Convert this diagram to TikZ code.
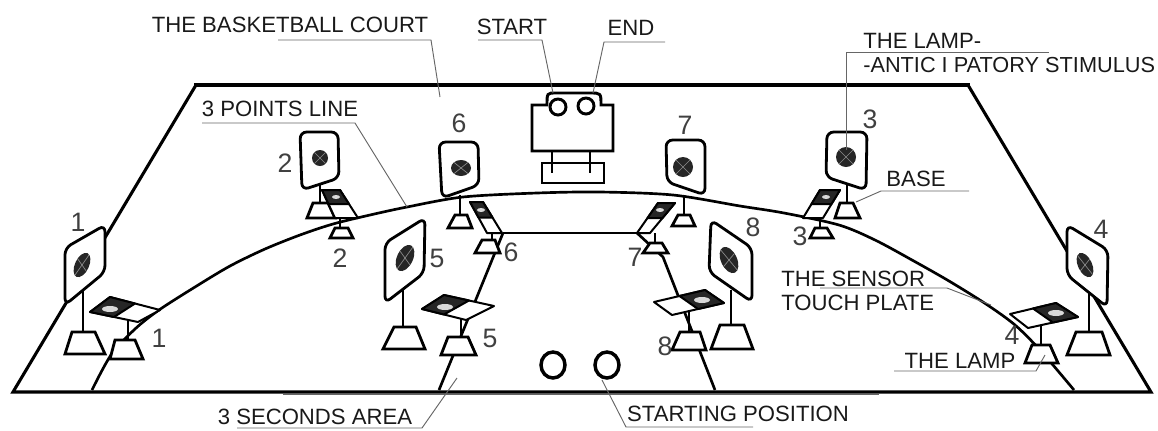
\documentclass[tikz,border=0pt]{standalone}
\usepackage{fontspec}
\setmainfont{Liberation Sans}
\tikzset{
  court/.style={line width=2.3pt, line join=miter},
  courttop/.style={line width=3.2pt},
  board/.style={draw, fill=white, line width=2.1pt, rounded corners=5pt},
  target/.style={fill=black!85, path picture={
    \draw[white!55!black, line width=.5pt] (path picture bounding box.south west) -- (path picture bounding box.north east);
    \draw[white!55!black, line width=.5pt] (path picture bounding box.north west) -- (path picture bounding box.south east);}},
  plate/.style={draw, fill=white, line width=1.5pt, line join=round},
  platedark/.style={draw, fill=black!85, line width=1.5pt, line join=round},
  spot/.style={fill=black!15},
  base/.style={draw, fill=white, line width=2.1pt, line join=miter},
  post/.style={line width=1.9pt},
  leader/.style={draw=black!60, line width=.7pt},
  lbl/.style={text=black!90, inner sep=0pt, font=\fontsize{16.6}{19}\selectfont},
  num/.style={text=black!75, inner sep=0pt, font=\fontsize{20}{22}\selectfont}
}
\begin{document}
\begin{tikzpicture}[x=0.75pt, y=-0.75pt]
  \useasboundingbox (0,0) rectangle (1158,430);
  \draw[court] (196,85) -- (13,392) -- (1151,392) -- (968,85);
  \draw[courttop] (194,85) -- (970,85);
  \draw[leader] (283,394.5) -- (879,394.5);
  \draw[line width=2pt] plot[smooth] coordinates {(92,390) (111,355) (135,329) (159,310) (195,287) (230,266) (265,249) (300,235) (333,224) (370,215) (407,207) (463,197) (537,193) (600,192) (673,195) (740,206) (784,213) (839,225) (875,240) (912,260) (949,281) (986,304) (1015,325) (1040,350) (1074,390)};
  \draw[line width=2pt] (503,233) -- (637,233);
  \draw[line width=2pt] (503,233) -- (439,390);
  \draw[line width=2pt] (637,233) -- (663,257) -- (715,390);

  \draw[line width=2.2pt, fill=white] (532,151) -- (532,105) -- (547,105) .. controls (547,93) .. (556,93) -- (590,93) .. controls (601,93) .. (601,105) -- (613,105) -- (613,151) -- cycle;
  \draw[line width=2.2pt] (558,107) circle (8);
  \draw[line width=2.2pt] (586,106) circle (8);
  \draw[line width=2.2pt] (542,163) rectangle (604,183);
  \draw[post] (552,151) -- (552,173);
  \draw[post] (590,151) -- (590,173);

  \draw[post] (83,287) -- (83,340);
  \draw[board] (105,225) -- (65,248) -- (65,305) -- (105,272) -- cycle;
  \fill[target, rotate around={-25:(82,265)}] (82,265) ellipse (7 and 13);
  \draw[base] (72,332) -- (95,332) -- (105,354) -- (65,354) -- cycle;
  \draw[post] (128,318) -- (128,340);
  \draw[plate] (90,312) -- (110,297) -- (160,310) -- (138,322) -- cycle;
  \draw[platedark] (90,312) -- (110,297) -- (135,303.5) -- (114,317) -- cycle;
  \fill[spot] (110,309) ellipse (8 and 3);
  \draw[base] (115,340) -- (135,340) -- (143,359) -- (110,359) -- cycle;

  \draw[post] (320,185) -- (320,205);
  \draw[board] (300,132) -- (338,132) -- (339,178) -- (302,190) -- cycle;
  \fill[target] (320,158) ellipse (8 and 8);
  \draw[base] (313,203) -- (328,203) -- (335,218) -- (307,218) -- cycle;
  \draw[post] (340,218) -- (340,228);
  \draw[plate] (322,190) -- (340,190) -- (358,218) -- (335,218) -- cycle;
  \draw[platedark] (322,190) -- (340,190) -- (349,204) -- (328.5,204) -- cycle;
  \fill[spot] (336,197) ellipse (4 and 2);
  \draw[base] (335,228) -- (348,228) -- (353,238) -- (330,238) -- cycle;

  \draw[post] (460,195) -- (460,215);
  \draw[board] (439,142) -- (478,142) -- (479,185) -- (442,198) -- cycle;
  \fill[target] (461,168) ellipse (10 and 8);
  \draw[base] (455,215) -- (467,215) -- (472,228) -- (448,228) -- cycle;
  \draw[post] (492,233) -- (492,240);
  \draw[plate] (470,202) -- (483,202) -- (502,233) -- (487,233) -- cycle;
  \draw[platedark] (470,202) -- (483,202) -- (492.5,217.5) -- (478.5,217.5) -- cycle;
  \fill[spot] (481,210) ellipse (4 and 2);
  \draw[base] (482,240) -- (495,240) -- (500,253) -- (475,253) -- cycle;

  \draw[post] (684,195) -- (684,215);
  \draw[board] (666,140) -- (705,140) -- (705,195) -- (667,182) -- cycle;
  \fill[target] (683,167) ellipse (10 and 10);
  \draw[base] (678,215) -- (690,215) -- (695,226) -- (672,226) -- cycle;
  \draw[post] (655,233) -- (655,243);
  \draw[plate] (658,203) -- (675,203) -- (650,233) -- (637,233) -- cycle;
  \draw[platedark] (658,203) -- (675,203) -- (662.5,218) -- (647.5,218) -- cycle;
  \fill[spot] (660,210) ellipse (4 and 2);
  \draw[base] (650,243) -- (662,243) -- (668,253) -- (643,253) -- cycle;

  \draw[post] (847,180) -- (847,205);
  \draw[board] (827,132) -- (867,132) -- (866,190) -- (826,177) -- cycle;
  \fill[target] (846,157) ellipse (10 and 10);
  \draw[base] (840,203) -- (853,203) -- (860,218) -- (835,218) -- cycle;
  \draw[post] (820,218) -- (820,228);
  \draw[plate] (820,190) -- (840,190) -- (823,218) -- (803,218) -- cycle;
  \draw[platedark] (820,190) -- (840,190) -- (831.5,204) -- (811.5,204) -- cycle;
  \fill[spot] (826,197) ellipse (4 and 2);
  \draw[base] (815,228) -- (827,228) -- (833,238) -- (810,238) -- cycle;

  \draw[post] (403,290) -- (403,327);
  \draw[board] (385,243) -- (425,218) -- (424,273) -- (385,303) -- cycle;
  \fill[target, rotate around={-25:(405,258)}] (405,258) ellipse (8 and 14);
  \draw[base] (394,327) -- (416,327) -- (425,349) -- (383,349) -- cycle;
  \draw[post] (461,316) -- (461,337);
  \draw[plate] (422,309) -- (444,295) -- (494,306) -- (466,320) -- cycle;
  \draw[platedark] (422,309) -- (444,295) -- (469,300.5) -- (444,314.5) -- cycle;
  \fill[spot] (445,307) ellipse (8 and 3);
  \draw[base] (448,337) -- (468,337) -- (476,355) -- (441,355) -- cycle;

  \draw[post] (731,290) -- (731,325);
  \draw[board] (711,220) -- (752,248) -- (752,302) -- (709,272) -- cycle;
  \fill[target, rotate around={25:(729,260)}] (729,260) ellipse (8 and 14);
  \draw[base] (720,325) -- (744,325) -- (753,349) -- (711,349) -- cycle;
  \draw[post] (689,312) -- (689,332);
  \draw[plate] (654,302) -- (705,290) -- (724,303) -- (672,315) -- cycle;
  \draw[platedark] (705,290) -- (724,303) -- (698,309) -- (679.5,296) -- cycle;
  \fill[spot] (702,300) ellipse (8 and 3);
  \draw[base] (680,332) -- (700,332) -- (706,350) -- (672,350) -- cycle;

  \draw[post] (1089,290) -- (1089,332);
  \draw[board] (1067,225) -- (1108,250) -- (1107,307) -- (1067,275) -- cycle;
  \fill[target, rotate around={25:(1085,265)}] (1085,265) ellipse (7 and 13);
  \draw[base] (1076,332) -- (1102,332) -- (1110,355) -- (1067,355) -- cycle;
  \draw[post] (1041,325) -- (1041,345);
  \draw[plate] (1010,314) -- (1056,303) -- (1078,317) -- (1028,328) -- cycle;
  \draw[platedark] (1056,303) -- (1078,317) -- (1053,322.5) -- (1033,308.5) -- cycle;
  \fill[spot] (1056,313) ellipse (8 and 3);
  \draw[base] (1032,345) -- (1050,345) -- (1058,363) -- (1025,363) -- cycle;

  \draw[line width=2.6pt] (553,365) ellipse (12 and 13);
  \draw[line width=2.6pt] (607,365) ellipse (12 and 13);

  \node[num] (board1) at (78,222) {1};
  \node[num] (lamp1) at (159,338) {1};
  \node[num] (board2) at (285,163) {2};
  \node[num] (lamp2) at (340,258) {2};
  \node[num] (board3) at (870,119) {3};
  \node[num] (lamp3) at (800,236) {3};
  \node[num] (board4) at (1101,229) {4};
  \node[num] (lamp4) at (1012,335) {4};
  \node[num] (board5) at (437,258) {5};
  \node[num] (lamp5) at (490,338) {5};
  \node[num] (board6) at (459,123) {6};
  \node[num] (lamp6) at (511,252) {6};
  \node[num] (board7) at (685,125) {7};
  \node[num] (lamp7) at (635,257) {7};
  \node[num] (board8) at (753,227) {8};
  \node[num] (lamp8) at (665,346) {8};

  \node[lbl] (courtlbl) at (290,25) {THE BASKETBALL COURT};
  \node[lbl] (startlbl) at (512,27) {START};
  \node[lbl] (endlbl) at (631,28) {END};
  \node[lbl, anchor=west] (lamplbl) at (863,41) {THE LAMP-};
  \node[lbl, anchor=west, font=\fontsize{16.3}{18}\selectfont] (anticlbl) at (863,65) {-ANTIC I PATORY STIMULUS};
  \node[lbl] (baselbl) at (916,179) {BASE};
  \node[lbl] (pointslbl) at (280,109) {3 POINTS LINE};
  \node[lbl, anchor=west] (sensorlbl) at (781,279) {THE SENSOR};
  \node[lbl, anchor=west] (touchlbl) at (781,303) {TOUCH PLATE};
  \node[lbl] (lamp4lbl) at (960,361) {THE LAMP};
  \node[lbl] (secondslbl) at (315,417) {3 SECONDS AREA};
  \node[lbl] (positionlbl) at (738,414) {STARTING POSITION};

  \draw[leader] (278,40) -- (431,40) -- (440,97);
  \draw[leader] (478,40) -- (542,40) -- (553,93);
  \draw[leader] (665,42) -- (604,42) -- (593,93);
  \draw[leader] (1049,52) -- (846,52) -- (846,150);
  \draw[leader] (969,191) -- (881,191) -- (856,202);
  \draw[leader] (202,123) -- (355,123) -- (407,207);
  \draw[leader] (820,288) -- (947,288) -- (991,305);
  \draw[leader] (894,371) -- (1036,371) -- (1045,355);
  \draw[leader] (602,380) -- (626,427) -- (753,427);
  \draw[leader] (237,428) -- (422,428) -- (457,378);
\end{tikzpicture}
\end{document}
